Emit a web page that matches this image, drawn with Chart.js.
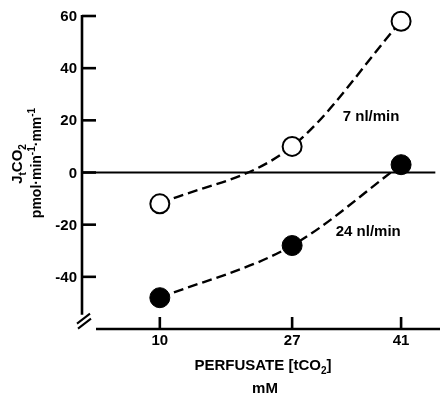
<!DOCTYPE html>
<html><head><meta charset="utf-8">
<script src="https://cdn.jsdelivr.net/npm/chart.js@4.4.0/dist/chart.umd.min.js"></script>
<style>html,body{margin:0;padding:0;background:#fff;}#wrap{width:440px;height:394px;}</style>
</head><body><div id="wrap"><canvas id="c" width="440" height="394"></canvas></div>
<script>
// ---- data ----
const perfusate = [10, 27, 41];
const flow7 = [-12, 10, 58];
const flow24 = [-48, -28, 3];
const yTicks = [60, 40, 20, 0, -20, -40];
const xTicks = [10, 27, 41];
const seriesLabels = ['7 nl/min', '24 nl/min'];

// ---- layout / style (not data) ----
const FONT = '"Liberation Sans", Arial, Helvetica, sans-serif';
const labelPos = [{x: 33.5, y: 21.5}, {x: 32.6, y: -22.7}];

function richText(ctx, segs, startX, baseY, size) {
  let cx = startX;
  segs.forEach(s => {
    const fs = s.sub || s.sup ? Math.round(size * 0.68) : size;
    ctx.font = 'bold ' + fs + 'px ' + FONT;
    const dy = s.sub ? size * 0.25 : (s.sup ? -size * 0.4 : 0);
    ctx.fillText(s.t, cx, baseY + dy);
    cx += ctx.measureText(s.t).width;
  });
}
function richWidth(ctx, segs, size) {
  let w = 0;
  segs.forEach(s => {
    const fs = s.sub || s.sup ? Math.round(size * 0.68) : size;
    ctx.font = 'bold ' + fs + 'px ' + FONT;
    w += ctx.measureText(s.t).width;
  });
  return w;
}

const axesPlugin = {
  id: 'axesPlugin',
  beforeDatasetsDraw(chart) {
    const {ctx, scales: {x, y}} = chart;
    const x0 = x.getPixelForValue(0);
    const yTop = y.getPixelForValue(60);
    const yEnd = y.getPixelForValue(-54.5);
    const yAx = y.getPixelForValue(-60);
    ctx.save();
    ctx.strokeStyle = '#000';
    ctx.fillStyle = '#000';
    ctx.lineWidth = 2.6;
    // y axis line
    ctx.beginPath(); ctx.moveTo(x0, yTop - 1); ctx.lineTo(x0, yEnd); ctx.stroke();
    // y ticks
    yTicks.forEach(v => {
      const py = y.getPixelForValue(v);
      ctx.beginPath(); ctx.moveTo(x0, py); ctx.lineTo(x0 + 14, py); ctx.stroke();
    });
    // break marks
    ctx.lineWidth = 2;
    ctx.beginPath(); ctx.moveTo(x0 - 5, yEnd + 9); ctx.lineTo(x0 + 8, yEnd - 1); ctx.stroke();
    ctx.beginPath(); ctx.moveTo(x0 - 4, yEnd + 14); ctx.lineTo(x0 + 9, yEnd + 4); ctx.stroke();
    // x axis line
    ctx.lineWidth = 2.6;
    ctx.beginPath(); ctx.moveTo(x.getPixelForValue(1.8), yAx); ctx.lineTo(x.getPixelForValue(46), yAx); ctx.stroke();
    xTicks.forEach(v => {
      const px = x.getPixelForValue(v);
      ctx.beginPath(); ctx.moveTo(px, yAx); ctx.lineTo(px, yAx - 12); ctx.stroke();
    });
    // zero line
    const y0 = y.getPixelForValue(0);
    ctx.lineWidth = 2.2;
    ctx.beginPath(); ctx.moveTo(x0, y0); ctx.lineTo(x.getPixelForValue(45.4), y0); ctx.stroke();

    // tick labels
    ctx.font = 'bold 15px ' + FONT;
    ctx.textAlign = 'right'; ctx.textBaseline = 'middle';
    yTicks.forEach(v => { ctx.fillText(String(v), x0 - 5, y.getPixelForValue(v) + 1); });
    ctx.textAlign = 'center';
    xTicks.forEach(v => { ctx.fillText(String(v), x.getPixelForValue(v), yAx + 12); });

    // x title
    ctx.textAlign = 'left'; ctx.textBaseline = 'alphabetic';
    const t1 = [{t: 'PERFUSATE [tCO'}, {t: '2', sub: true}, {t: ']'}];
    const w1 = richWidth(ctx, t1, 15);
    richText(ctx, t1, 263 - w1 / 2, 370, 15);
    const t2 = [{t: 'mM'}];
    const w2 = richWidth(ctx, t2, 15);
    richText(ctx, t2, 265 - w2 / 2, 393, 15);

    // y title (rotated)
    const l1 = [{t: 'J'}, {t: 't', sub: true}, {t: 'CO'}, {t: '2', sub: true}];
    const l2 = [{t: 'pmol\u00b7min'}, {t: '-1', sup: true}, {t: '\u00b7mm'}, {t: '-1', sup: true}];
    ctx.save();
    ctx.translate(22, 164); ctx.rotate(-Math.PI / 2);
    richText(ctx, l1, -richWidth(ctx, l1, 15) / 2, 0, 15);
    ctx.restore();
    ctx.save();
    ctx.translate(41, 163); ctx.rotate(-Math.PI / 2);
    richText(ctx, l2, -richWidth(ctx, l2, 14) / 2, 0, 14);
    ctx.restore();

    // series labels
    ctx.font = 'bold 15px ' + FONT;
    ctx.textAlign = 'left'; ctx.textBaseline = 'middle';
    seriesLabels.forEach((s, i) => {
      ctx.fillText(s, x.getPixelForValue(labelPos[i].x), y.getPixelForValue(labelPos[i].y));
    });
    ctx.restore();
  }
};

new Chart(document.getElementById('c'), {
  type: 'line',
  data: {
    datasets: [
      {
        label: seriesLabels[0],
        data: perfusate.map((p, i) => ({x: p, y: flow7[i]})),
        borderColor: '#000', borderWidth: 2.4, borderDash: [10, 5],
        cubicInterpolationMode: 'monotone', fill: false,
        pointRadius: 9.5, pointBorderWidth: 2, pointBackgroundColor: '#fff', pointBorderColor: '#000',
        clip: false
      },
      {
        label: seriesLabels[1],
        data: perfusate.map((p, i) => ({x: p, y: flow24[i]})),
        borderColor: '#000', borderWidth: 2.4, borderDash: [10, 5],
        cubicInterpolationMode: 'monotone', fill: false,
        pointRadius: 10, pointBorderWidth: 1, pointBackgroundColor: '#000', pointBorderColor: '#000',
        clip: false
      }
    ]
  },
  options: {
    responsive: false, animation: false, devicePixelRatio: 1,
    layout: {autoPadding: false, padding: {left: 82, top: 16, right: 0, bottom: 65}},
    plugins: {legend: {display: false}, tooltip: {enabled: false}},
    scales: {
      x: {type: 'linear', min: 0, max: 46, display: false},
      y: {type: 'linear', min: -60, max: 60, display: false}
    }
  },
  plugins: [axesPlugin]
});
</script></body></html>
